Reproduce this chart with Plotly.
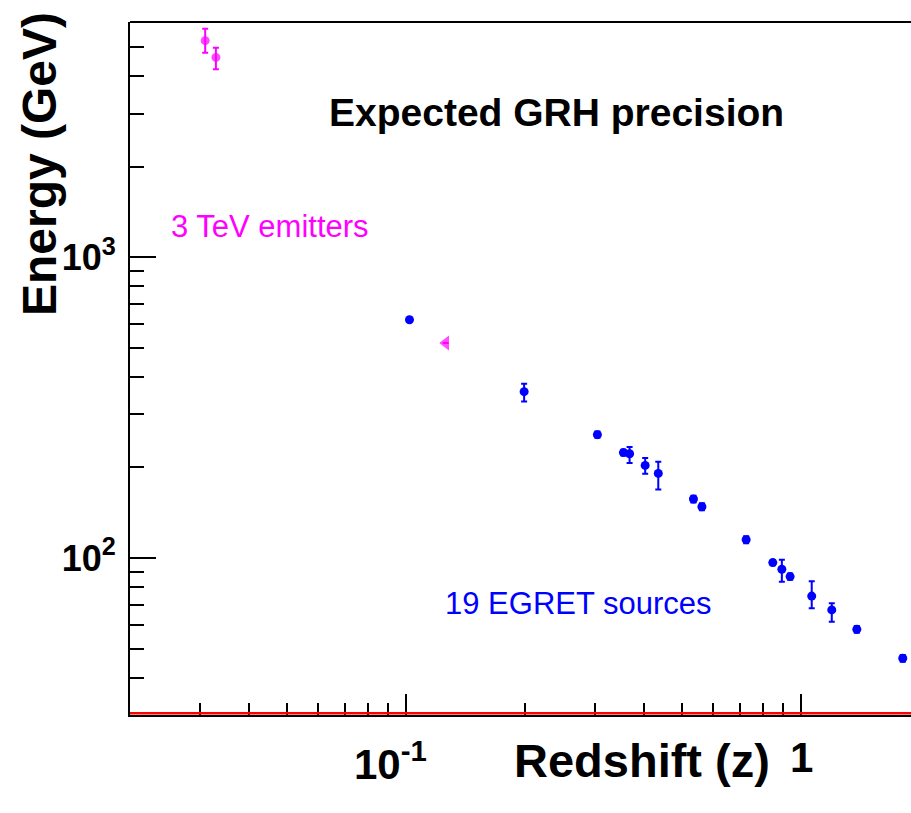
import numpy as np
import plotly.graph_objects as go

# ---- data ----
tev_z = [0.031, 0.033, 0.126]
tev_E = [5240, 4610, 518]
tev_err_plus = [505, 355, 0]
tev_err_minus = [460, 395, 0]
tev_symbols = ["circle", "circle", "triangle-left"]
tev_sizes = [9, 9, 13]

egret_z = [0.102, 0.199, 0.305, 0.355, 0.368, 0.403, 0.435, 0.534, 0.561,
           0.726, 0.848, 0.894, 0.938, 1.064, 1.196, 1.384, 1.809]
egret_E = [619, 357, 257, 224, 222, 203, 191, 157, 148,
           115, 96.5, 91.7, 86.7, 74.7, 67.2, 57.9, 46.4]
egret_err_plus = [8, 22, 6, 5, 12, 12, 18, 4, 4, 3, 2, 7, 2, 9, 3.5, 1.5, 1.2]
egret_err_minus = [8, 26, 6, 5, 15, 12.5, 22, 4, 4, 3, 2, 8.3, 2, 6.7, 5.8, 1.5, 1.2]

x_major = [0.1, 1]
x_major_text = ["10<sup>-1</sup>", "1"]
x_minor = [0.02, 0.03, 0.04, 0.05, 0.06, 0.07, 0.08, 0.09,
           0.2, 0.3, 0.4, 0.5, 0.6, 0.7, 0.8, 0.9]
y_major = [100, 1000]
y_major_text = ["10<sup>2</sup>", "10<sup>3</sup>"]
y_minor = [40, 50, 60, 70, 80, 90, 200, 300, 400, 500, 600, 700, 800, 900,
           2000, 3000, 4000, 5000]

FONT = "Liberation Sans, Arial, Helvetica, sans-serif"
BLUE = "#0000ff"
MAGENTA = "#ff00ff"

fig = go.Figure()
fig.add_trace(go.Scatter(
    x=egret_z, y=egret_E, mode="markers",
    marker=dict(color=BLUE, size=9, symbol="circle", line=dict(width=0)),
    error_y=dict(type="data", symmetric=False, array=egret_err_plus,
                 arrayminus=egret_err_minus, color=BLUE, thickness=2, width=3),
    showlegend=False))
fig.add_trace(go.Scatter(
    x=tev_z, y=tev_E, mode="markers",
    marker=dict(color=MAGENTA, size=tev_sizes, symbol=tev_symbols, line=dict(width=0)),
    error_y=dict(type="data", symmetric=False, array=tev_err_plus,
                 arrayminus=tev_err_minus, color=MAGENTA, thickness=2, width=3),
    showlegend=False))

# x tick labels as annotations placed through the x axis scale
x_tick_annots = []
x_label_shift = [-16, 0]
for v, t, s in zip(x_major, x_major_text, x_label_shift):
    x_tick_annots.append(dict(
        text=t, xref="x", yref="paper", x=np.log10(v), y=-0.024,
        xanchor="center", yanchor="top", xshift=s, showarrow=False,
        font=dict(family=FONT, size=42, color="black", weight="bold")))

fig.update_layout(
    width=911, height=813,
    margin=dict(l=130, r=0, t=22, b=98),
    paper_bgcolor="white", plot_bgcolor="white",
    font=dict(family=FONT, color="black"),
    xaxis=dict(
        type="log", range=[np.log10(0.02), np.log10(1.898)],
        tickmode="array", tickvals=x_major, ticktext=x_major_text,
        showticklabels=False,
        ticks="inside", ticklen=21, tickwidth=2, tickcolor="black",
        showline=True, linecolor="black", linewidth=2,
        showgrid=False, zeroline=False,
        minor=dict(tickmode="array", tickvals=x_minor, ticks="inside",
                   ticklen=12, tickwidth=2, tickcolor="black", showgrid=False),
    ),
    yaxis=dict(
        type="log", range=[np.log10(30.06), np.log10(6046)],
        tickmode="array", tickvals=y_major, ticktext=y_major_text,
        ticks="inside", ticklen=26, tickwidth=2, tickcolor="black",
        showline=True, linecolor="black", linewidth=2,
        showgrid=False, zeroline=False,
        tickfont=dict(family=FONT, size=36, color="black", weight="bold"),
        ticklabelstandoff=5,
        minor=dict(tickmode="array", tickvals=y_minor, ticks="inside",
                   ticklen=14, tickwidth=2, tickcolor="black", showgrid=False),
    ),
    shapes=[
        dict(type="line", xref="paper", yref="paper", x0=0, x1=1, y0=1, y1=1,
             line=dict(color="black", width=2)),
        dict(type="line", xref="paper", yref="paper", x0=0, x1=1,
             y0=0.0025, y1=0.0025, line=dict(color="red", width=2.5)),
    ],
    annotations=x_tick_annots + [
        dict(text="Expected GRH precision", xref="paper", yref="paper",
             x=0.5455, y=0.8694, xanchor="center", yanchor="middle",
             showarrow=False,
             font=dict(family=FONT, size=39, color="black", weight="bold")),
        dict(text="3 TeV emitters", xref="paper", yref="paper",
             x=0.1793, y=0.7046, xanchor="center", yanchor="middle",
             showarrow=False, font=dict(family=FONT, size=31, color=MAGENTA)),
        dict(text="19 EGRET sources", xref="paper", yref="paper",
             x=0.573, y=0.1616, xanchor="center", yanchor="middle",
             showarrow=False, font=dict(family=FONT, size=31, color=BLUE)),
        dict(text="Energy (GeV)", xref="paper", yref="paper",
             x=-0.1165, y=0.7950, xanchor="center", yanchor="middle",
             textangle=-90, showarrow=False,
             font=dict(family=FONT, size=48, color="black", weight="bold")),
        dict(text="Redshift (z)", xref="paper", yref="paper",
             x=0.6556, y=-0.0245, xanchor="center", yanchor="top",
             showarrow=False,
             font=dict(family=FONT, size=47, color="black", weight="bold")),
    ],
)

fig.write_html("out.html")
